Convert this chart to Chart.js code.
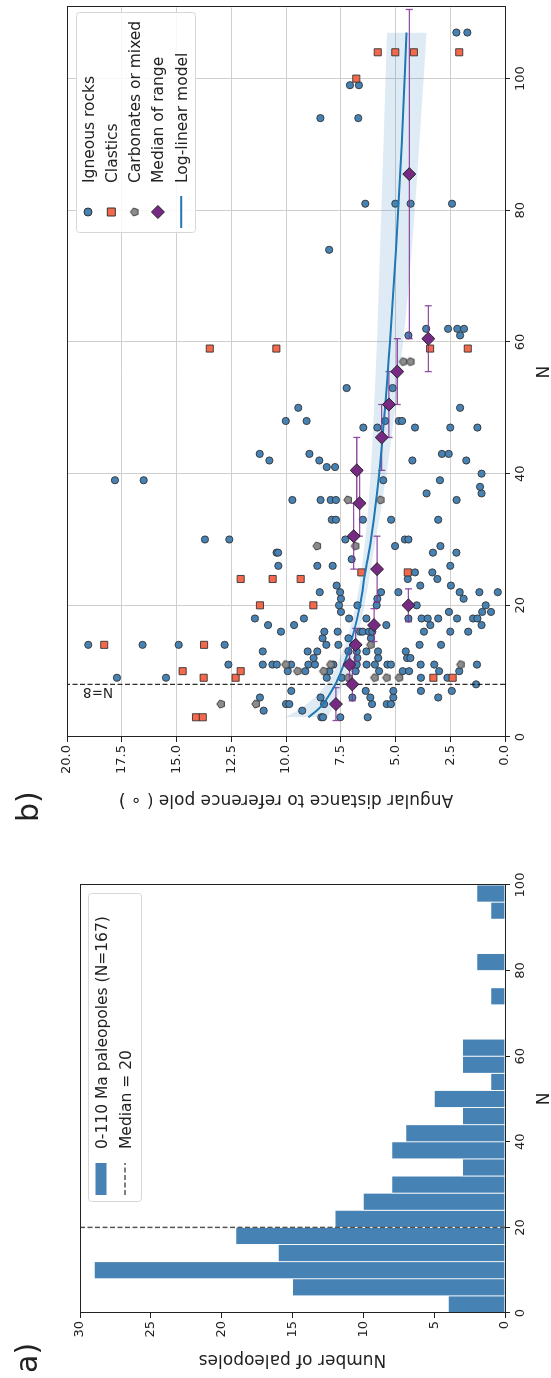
<!DOCTYPE html>
<html lang="en">
<head>
<meta charset="UTF-8">
<title>Paleopoles: N and angular distance</title>
<script src="https://cdn.jsdelivr.net/npm/chart.js"></script>
<style>
  html, body { margin: 0; padding: 0; background: #fff; overflow: hidden; }
  body { width: 551px; height: 1378px; position: relative; }
  /* the figure is laid out landscape and turned a quarter turn, like the source */
  #figure {
    position: absolute; left: 0; top: 0;
    width: 1378px; height: 551px;
    transform-origin: 0 0;
    transform: translateY(1378px) rotate(-90deg);
  }
  #histCanvas { position: absolute; left: 0; top: 0; }
  #scatterCanvas { position: absolute; left: 540px; top: 0; }
</style>
</head>
<body>
<div id="figure">
  <canvas id="histCanvas" width="540" height="551"></canvas>
  <canvas id="scatterCanvas" width="838" height="551"></canvas>
</div>

<script>
// ---------- panel a: histogram of N ----------
const binStarts = [0, 4, 8, 12, 16, 20, 24, 28, 32, 36, 40, 44, 48, 52, 56, 60, 64, 68, 72, 76, 80, 84, 88, 92, 96];
const binCounts = [4, 15, 29, 16, 19, 12, 10, 8, 3, 8, 7, 3, 5, 1, 3, 3, 0, 0, 1, 0, 2, 0, 0, 1, 2];
const binWidth = 4;
const medianOfN = 20;

// ---------- panel b: angular distance vs N ----------
const igneousN = [
  3, 3, 3, 3,
  4, 4,
  5, 5, 5, 5, 5, 5,
  6, 6, 6, 6, 6, 6,
  7, 7, 7, 7, 7,
  8,
  9, 9, 9, 9, 9, 9,
  10, 10, 10, 10, 10, 10, 10, 10, 10,
  11, 11, 11, 11, 11, 11, 11, 11, 11, 11, 11, 11, 11, 11, 11, 11,
  12, 12, 12, 12, 12,
  13, 13, 13, 13, 13, 13, 13, 13,
  14, 14, 14, 14, 14, 14, 14, 14,
  15, 15, 15,
  16, 16, 16, 16, 16, 16, 16, 16, 16, 16,
  17, 17, 17, 17, 17,
  18, 18, 18, 18, 18, 18, 18, 18, 18, 18, 18,
  19, 19, 19, 19,
  20, 20, 20, 20, 20,
  21, 21, 21,
  22, 22, 22, 22, 22, 22, 22,
  23, 23, 23,
  24, 24, 25, 25, 26, 26, 26, 26, 27, 28, 28, 28, 28, 29, 29,
  30, 30, 30, 30, 30,
  33, 33, 33, 33, 33,
  36, 36, 36, 36, 36,
  37, 37, 38, 39, 39, 39, 39, 40, 41, 41, 42, 42, 42, 42, 43, 43, 43, 43,
  47, 47, 47, 47, 47,
  48, 48, 48, 48, 48,
  50, 50, 53, 53, 61, 61, 62, 62, 62, 62,
  74, 81, 81, 81, 81, 94, 94, 99, 99, 107, 107
];
const igneousAngle = [
  8.39, 8.31, 7.52, 6.27,
  11.02, 9.26,
  10.0, 9.85, 8.26, 6.07, 5.40, 5.21,
  11.19, 8.42, 6.97, 6.15, 5.10, 3.05,
  9.76, 6.36, 5.10, 3.84, 2.43,
  1.32,
  17.72, 15.48, 8.14, 7.45, 3.84, 2.63,
  9.92, 9.12, 8.02, 6.82, 5.75, 4.67, 4.38, 3.01, 2.09,
  12.63, 11.06, 10.62, 10.42, 9.77, 8.98, 8.68, 7.84, 6.77, 6.32, 5.94, 5.37, 5.21, 3.85, 3.23, 1.28,
  8.74, 6.74, 5.79, 4.47, 4.32,
  11.06, 9.01, 8.57, 7.15, 6.77, 6.33, 5.80, 4.53,
  19.03, 16.55, 14.90, 12.80, 8.16, 7.61, 3.90, 2.92,
  8.33, 7.15, 6.12,
  10.23, 8.25, 7.64, 6.62, 6.50, 6.21, 6.06, 3.70, 2.50, 1.68,
  10.82, 9.63, 5.42, 3.41, 1.07,
  11.42, 9.18, 7.12, 6.33, 4.41, 3.81, 3.53, 3.05, 2.19, 1.46, 1.26,
  7.49, 2.56, 1.04, 0.64,
  7.58, 6.74, 5.86, 4.03, 0.88,
  7.49, 5.83, 1.89,
  8.46, 7.53, 5.66, 4.87, 2.07, 1.17, 0.33,
  7.69, 3.87, 2.47,
  4.44, 3.09, 4.11, 3.32, 10.35, 8.57, 7.87, 2.50, 7.00, 10.43, 10.36, 3.29, 2.22, 5.02, 2.95,
  13.70, 12.59, 7.29, 4.57, 4.41,
  7.91, 7.72, 6.49, 5.20, 3.05,
  9.71, 8.42, 7.96, 7.72, 2.21,
  3.58, 1.07, 1.14, 17.81, 16.50, 5.56, 2.97, 1.07, 8.14, 7.76, 10.76, 8.48, 4.23, 1.77, 11.20, 8.93, 2.88, 2.57,
  6.47, 5.83, 4.11, 2.50, 1.26,
  10.01, 9.06, 5.47, 4.85, 4.70,
  9.44, 2.05, 7.23, 5.13, 4.41, 2.05, 3.60, 2.60, 2.18, 1.87,
  8.03, 6.38, 5.01, 4.31, 2.42, 8.43, 6.70, 7.08, 6.67, 2.22, 1.72
];

const clasticN = [3, 3, 9, 9, 9, 9, 10, 10, 14, 14, 20, 20, 24, 24, 24, 25, 25, 59, 59, 59, 59, 100, 104, 104, 104, 104];
const clasticAngle = [14.11, 13.80, 13.76, 12.30, 3.27, 2.39, 14.72, 12.07, 18.30, 13.74, 11.19, 8.75,
  12.07, 10.61, 9.33, 6.56, 4.44, 13.48, 10.44, 3.42, 1.70, 6.79, 5.81, 5.01, 4.16, 2.09];

const carbonateN = [5, 5, 9, 9, 9, 9, 10, 10, 11, 11, 11, 14, 29, 29, 36, 36, 57, 57];
const carbonateAngle = [12.97, 11.37, 7.15, 5.95, 5.40, 4.83, 9.47, 8.28, 10.01, 7.96, 2.02, 6.13,
  8.58, 6.83, 7.17, 5.68, 4.64, 4.31];

// medians of N ranges, with half width of each range
const medianN = [5, 8, 11, 14, 17, 20, 25.5, 30.5, 35.5, 40.5, 45.5, 50.5, 55.5, 60.5, 85.5];
const medianAngle = [7.72, 6.97, 7.10, 6.82, 5.98, 4.41, 5.84, 6.91, 6.64, 6.77, 5.63, 5.30, 4.92, 3.50, 4.37];
const medianHalfRange = [2.5, 2.5, 2.5, 2.5, 2.5, 2.5, 5, 5, 5, 5, 5, 5, 5, 5, 25];

// log-linear model and its band
const modelN = [3, 4, 5, 6, 8, 10, 12, 15, 20, 25, 30, 37, 45, 60, 74, 90, 107];
const modelAngle = [8.98, 8.60, 8.30, 8.10, 7.75, 7.48, 7.25, 6.98, 6.62, 6.38, 6.12, 5.85, 5.60, 5.25, 4.98, 4.72, 4.50];
const bandUpper = [10.05, 9.50, 9.05, 8.70, 8.15, 7.80, 7.55, 7.20, 6.82, 6.57, 6.38, 6.20, 6.05, 5.85, 5.71, 5.55, 5.39];
const bandLower = [8.10, 7.95, 7.80, 7.65, 7.40, 7.18, 6.98, 6.75, 6.42, 6.15, 5.90, 5.55, 5.20, 4.65, 4.26, 3.92, 3.59];
const cutoffN = 8;

// ---------- styling ----------
const FONT = 'DejaVu Sans';
const INK = '#222';
const steel = '#4682b4';
const tomato = '#f4694b';
const carbGray = '#8c8c8c';
const purple = '#762a83';
const modelBlue = '#1f77b4';

Chart.defaults.font.family = FONT;
Chart.defaults.color = INK;

const pts = (xs, ys) => xs.map((x, i) => ({ x: x, y: ys[i] }));

// pentagon marker for carbonates
function pentagon(r) {
  const c = document.createElement('canvas');
  const s = Math.ceil(2 * r + 3);
  c.width = s; c.height = s;
  const g = c.getContext('2d');
  g.beginPath();
  for (let k = 0; k < 5; k++) {
    const a = -Math.PI / 2 + k * 2 * Math.PI / 5;
    const px = s / 2 + r * Math.cos(a), py = s / 2 + r * Math.sin(a);
    if (k === 0) g.moveTo(px, py); else g.lineTo(px, py);
  }
  g.closePath();
  g.fillStyle = carbGray; g.fill();
  g.strokeStyle = '#333'; g.lineWidth = 0.9; g.stroke();
  return c;
}
const pentMarker = pentagon(4.2);

// frame on all four sides, like matplotlib spines
const framePlugin = {
  id: 'frame',
  afterDatasetsDraw(chart) {
    const a = chart.chartArea, ctx = chart.ctx;
    ctx.save();
    ctx.strokeStyle = INK; ctx.lineWidth = 1;
    ctx.strokeRect(Math.round(a.left) + 0.5, Math.round(a.top) + 0.5,
      Math.round(a.right - a.left), Math.round(a.bottom - a.top));
    ctx.restore();
  }
};

function legendBox(ctx, x, y, w, h) {
  ctx.beginPath();
  ctx.roundRect(x, y, w, h, 3);
  ctx.fillStyle = 'rgba(255,255,255,0.85)';
  ctx.fill();
  ctx.strokeStyle = '#d6d6d6';
  ctx.lineWidth = 1;
  ctx.stroke();
}

function axisCommon(extra) {
  return Object.assign({
    type: 'linear',
    border: { color: INK, width: 1 },
    ticks: { font: { size: 13 }, color: INK, padding: 3, autoSkip: false, maxRotation: 0, includeBounds: false },
  }, extra);
}

// ---------- chart a ----------
const histLegend = {
  id: 'histLegend',
  afterDraw(chart) {
    const ctx = chart.ctx;
    ctx.save();
    legendBox(ctx, 176.5, 88.5, 308, 53);
    ctx.fillStyle = steel;
    ctx.fillRect(183, 95.5, 32, 11);
    ctx.strokeStyle = '#555'; ctx.lineWidth = 1.5; ctx.setLineDash([5, 2.5]);
    ctx.beginPath(); ctx.moveTo(183, 125); ctx.lineTo(215, 125); ctx.stroke();
    ctx.setLineDash([]);
    ctx.fillStyle = INK;
    ctx.font = '15.5px "' + FONT + '"';
    ctx.textBaseline = 'alphabetic';
    ctx.fillText('0-110 Ma paleopoles (N=167)', 229, 106.5);
    ctx.fillText('Median = 20', 229, 130.5);
    ctx.font = '30px "' + FONT + '"';
    ctx.fillText('a)', 5, 37);
    ctx.restore();
  }
};

new Chart(document.getElementById('histCanvas'), {
  type: 'bar',
  data: {
    datasets: [
      {
        type: 'line',
        data: [{ x: medianOfN, y: 0 }, { x: medianOfN, y: 30 }],
        borderColor: '#555', borderWidth: 1.5, borderDash: [5, 2.5],
        pointRadius: 0, order: 0
      },
      {
        label: '0-110 Ma paleopoles (N=167)',
        data: binStarts.map((s, i) => ({ x: s + binWidth / 2, y: binCounts[i] })),
        backgroundColor: steel,
        borderColor: '#ffffff', borderWidth: 0.8,
        barPercentage: 1, categoryPercentage: 1, order: 1
      }
    ]
  },
  options: {
    responsive: false, animation: false, devicePixelRatio: 1, events: [],
    layout: { padding: { left: 0, right: 47, top: 80, bottom: 0 } },
    plugins: { legend: { display: false }, tooltip: { enabled: false } },
    scales: {
      x: axisCommon({
        min: 0, max: 100, offset: false,
        grid: { drawOnChartArea: false, offset: false, tickLength: 5, tickColor: INK },
        ticks: { font: { size: 13 }, color: INK, padding: 3, stepSize: 20, autoSkip: false, maxRotation: 0, includeBounds: false },
        title: { display: true, text: 'N', font: { size: 17, lineHeight: 1 }, padding: { top: 0, bottom: -2 } },
        afterFit(s) { s.height = 46; }
      }),
      y: axisCommon({
        min: 0, max: 30,
        grid: { drawOnChartArea: false, tickLength: 5, tickColor: INK },
        ticks: { font: { size: 13 }, color: INK, padding: 3, stepSize: 5, autoSkip: false, includeBounds: false },
        title: { display: true, text: 'Number of paleopoles', font: { size: 17 }, padding: { top: 8, bottom: 0 } },
        afterFit(s) { s.width = 65; }
      })
    }
  },
  plugins: [framePlugin, histLegend]
});

// ---------- chart b ----------
const errSegments = [];
const errCaps = [];
medianN.forEach((n, i) => {
  const lo = n - medianHalfRange[i], hi = n + medianHalfRange[i];
  errSegments.push({ x: lo, y: medianAngle[i] }, { x: hi, y: medianAngle[i] }, { x: hi, y: null });
  errCaps.push({ x: lo, y: medianAngle[i] }, { x: hi, y: medianAngle[i] });
});

const scatterExtras = {
  id: 'scatterExtras',
  afterDatasetsDraw(chart) {
    const ctx = chart.ctx, xs = chart.scales.x, ys = chart.scales.y;
    ctx.save();
    ctx.fillStyle = INK;
    ctx.font = '13.5px "' + FONT + '"';
    ctx.translate(xs.getPixelForValue(cutoffN) - 4, ys.getPixelForValue(17.9));
    ctx.rotate(-Math.PI / 2);
    ctx.textBaseline = 'alphabetic';
    ctx.fillText('N=8', 0, 0);
    ctx.restore();
  },
  afterDraw(chart) {
    const ctx = chart.ctx;
    const x0 = 605;
    ctx.save();
    legendBox(ctx, x0 + 0.5, 76.5, 220, 119);
    const rows = [88, 111.3, 134.6, 157.9, 181.2];
    const mx = 626;
    // igneous
    ctx.beginPath(); ctx.arc(mx, rows[0], 4, 0, 2 * Math.PI);
    ctx.fillStyle = steel; ctx.fill(); ctx.strokeStyle = '#333'; ctx.lineWidth = 1; ctx.stroke();
    // clastics
    ctx.beginPath(); ctx.rect(mx - 4, rows[1] - 4, 8, 8);
    ctx.fillStyle = tomato; ctx.fill(); ctx.stroke();
    // carbonates
    ctx.drawImage(pentMarker, mx - pentMarker.width / 2, rows[2] - pentMarker.height / 2);
    // median diamond
    ctx.beginPath();
    ctx.moveTo(mx, rows[3] - 6.5); ctx.lineTo(mx + 6.5, rows[3]);
    ctx.lineTo(mx, rows[3] + 6.5); ctx.lineTo(mx - 6.5, rows[3]); ctx.closePath();
    ctx.fillStyle = purple; ctx.fill(); ctx.strokeStyle = '#222'; ctx.stroke();
    // model line
    ctx.beginPath(); ctx.moveTo(610, rows[4]); ctx.lineTo(642, rows[4]);
    ctx.strokeStyle = modelBlue; ctx.lineWidth = 2; ctx.stroke();

    ctx.fillStyle = INK;
    ctx.font = '15.5px "' + FONT + '"';
    ctx.textBaseline = 'alphabetic';
    ['Igneous rocks', 'Clastics', 'Carbonates or mixed', 'Median of range', 'Log-linear model']
      .forEach((t, i) => ctx.fillText(t, 655, rows[i] + 5.5));
    ctx.font = '30px "' + FONT + '"';
    ctx.fillText('b)', 16, 38);
    ctx.restore();
  }
};

new Chart(document.getElementById('scatterCanvas'), {
  type: 'scatter',
  data: {
    datasets: [
      {
        type: 'line', label: 'band upper',
        data: pts(modelN, bandUpper), fill: '+1',
        backgroundColor: 'rgba(31,119,180,0.15)', borderWidth: 0, pointRadius: 0,
        cubicInterpolationMode: 'monotone', order: 20
      },
      {
        type: 'line', label: 'band lower',
        data: pts(modelN, bandLower), fill: false,
        borderWidth: 0, pointRadius: 0, cubicInterpolationMode: 'monotone', order: 20
      },
      {
        label: 'Igneous rocks', data: pts(igneousN, igneousAngle),
        pointStyle: 'circle', pointRadius: 3.6,
        backgroundColor: steel, borderColor: '#333', borderWidth: 0.9, order: 10
      },
      {
        label: 'Clastics', data: pts(clasticN, clasticAngle),
        pointStyle: 'rect', pointRadius: 5.0,
        backgroundColor: tomato, borderColor: '#333', borderWidth: 0.9, order: 9
      },
      {
        label: 'Carbonates or mixed', data: pts(carbonateN, carbonateAngle),
        pointStyle: pentMarker, order: 9
      },
      {
        type: 'line', label: 'cutoff',
        data: [{ x: cutoffN, y: 0 }, { x: cutoffN, y: 20 }],
        borderColor: '#111', borderWidth: 1.1, borderDash: [5, 2.5], pointRadius: 0, order: 8
      },
      {
        type: 'line', label: 'range',
        data: errSegments, spanGaps: false,
        borderColor: 'rgba(130,50,150,0.85)', borderWidth: 1.3, pointRadius: 0, order: 4
      },
      {
        label: 'caps', data: errCaps,
        pointStyle: 'line', rotation: 90, pointRadius: 3.5,
        borderColor: 'rgba(130,50,150,0.85)', borderWidth: 1.3, order: 4
      },
      {
        type: 'line', label: 'Log-linear model',
        data: pts(modelN, modelAngle),
        borderColor: modelBlue, borderWidth: 2, pointRadius: 0,
        cubicInterpolationMode: 'monotone', fill: false, order: 3
      },
      {
        label: 'Median of range', data: pts(medianN, medianAngle),
        pointStyle: 'rectRot', pointRadius: 6.5,
        backgroundColor: purple, borderColor: '#222', borderWidth: 1, order: 1
      }
    ]
  },
  options: {
    responsive: false, animation: false, devicePixelRatio: 1, events: [],
    layout: { padding: { left: 0, right: 5, top: 67, bottom: 0 } },
    plugins: { legend: { display: false }, tooltip: { enabled: false } },
    scales: {
      x: axisCommon({
        min: 0, max: 110.8,
        grid: { color: '#cfcfcf', lineWidth: 1, tickLength: 5, tickColor: INK },
        ticks: { font: { size: 13 }, color: INK, padding: 3, stepSize: 20, autoSkip: false, maxRotation: 0, includeBounds: false },
        title: { display: true, text: 'N', font: { size: 17, lineHeight: 1 }, padding: { top: 0, bottom: -2 } },
        afterFit(s) { s.height = 46; }
      }),
      y: axisCommon({
        min: 0, max: 20,
        grid: { color: '#cfcfcf', lineWidth: 1, tickLength: 5, tickColor: INK },
        ticks: {
          font: { size: 13 }, color: INK, padding: 3, stepSize: 2.5, autoSkip: false, includeBounds: false,
          callback: v => v.toFixed(1)
        },
        title: { display: true, text: 'Angular distance to reference pole ( \u2218 )', font: { size: 17 }, padding: { top: 28, bottom: 0 } },
        afterFit(s) { s.width = 101; }
      })
    }
  },
  plugins: [framePlugin, scatterExtras]
});
</script>
</body>
</html>
